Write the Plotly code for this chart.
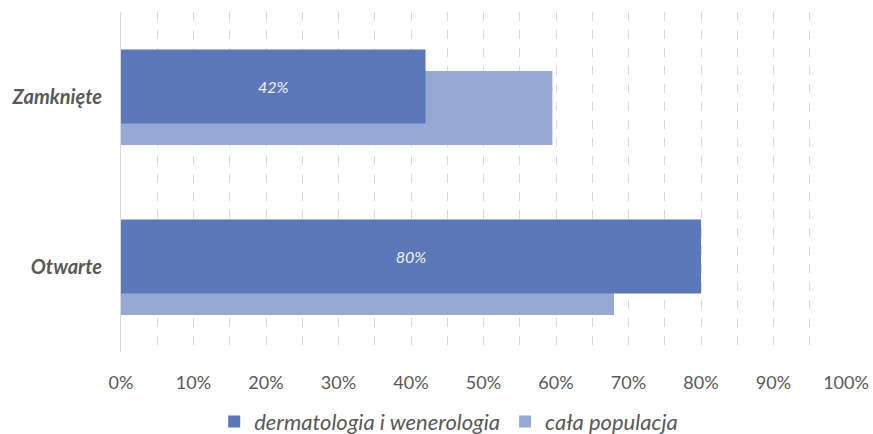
import plotly.graph_objects as go

categories = ["Zamknięte", "Otwarte"]
derm_values = [0.42, 0.80]
pop_values = [0.595, 0.68]
derm_labels = ["42%", "80%"]
x_tick_vals = [0, 0.1, 0.2, 0.3, 0.4, 0.5, 0.6, 0.7, 0.8, 0.9, 1.0]
x_tick_text = ["0%", "10%", "20%", "30%", "40%", "50%", "60%", "70%", "80%", "90%", "100%"]

DARK = "#5b79ba"
LIGHT = "#95a9d3"
FONT = "Lato"
GREY = "#595959"

fig = go.Figure()
fig.add_trace(go.Bar(
    y=categories, x=pop_values, orientation="h", name="cała populacja",
    marker=dict(color=LIGHT, line=dict(width=0)),
    width=0.435, offset=-0.153, legendrank=2, hoverinfo="x",
))
fig.add_trace(go.Bar(
    y=categories, x=derm_values, orientation="h", name="dermatologia i wenerologia",
    marker=dict(color=DARK, line=dict(width=0)),
    width=0.435, offset=-0.279, legendrank=1,
    text=derm_labels, textposition="inside", insidetextanchor="middle",
    textangle=0,
    textfont=dict(family=FONT, size=16, color="#f2f2f2", style="italic"),
))

fig.update_layout(
    width=873, height=434,
    margin=dict(l=121, r=27, t=12, b=82, autoexpand=False),
    barmode="overlay",
    plot_bgcolor="white", paper_bgcolor="white",
    font=dict(family=FONT, color=GREY),
    legend=dict(
        orientation="h", x=0.452, xanchor="center", y=-0.205, yanchor="middle",
        font=dict(family=FONT, size=22, color=GREY, style="italic"),
        traceorder="normal", itemwidth=30,
    ),
    xaxis=dict(
        range=[0, 1.0], tickvals=x_tick_vals, ticktext=x_tick_text,
        tickfont=dict(family=FONT, size=18, color=GREY),
        showgrid=True, gridcolor="#d9d9d9", griddash="dash", gridwidth=1,
        minor=dict(dtick=0.05, showgrid=True, gridcolor="#d9d9d9", griddash="dash", gridwidth=1),
        zeroline=False, showline=False, ticks="", ticklabelstandoff=18,
        automargin=False,
    ),
    yaxis=dict(
        type="category", categoryorder="array", categoryarray=categories,
        autorange="reversed",
        tickfont=dict(family=FONT, size=20, color=GREY, weight="bold", style="italic"),
        showline=True, linecolor="#d9d9d9", linewidth=1,
        showgrid=False, zeroline=False, ticks="", ticklabelstandoff=14,
        automargin=False,
    ),
)

fig.write_html(
    "out.html",
    config={"displayModeBar": False},
    post_script="document.body.style.margin='0';document.body.style.overflow='hidden';",
)
